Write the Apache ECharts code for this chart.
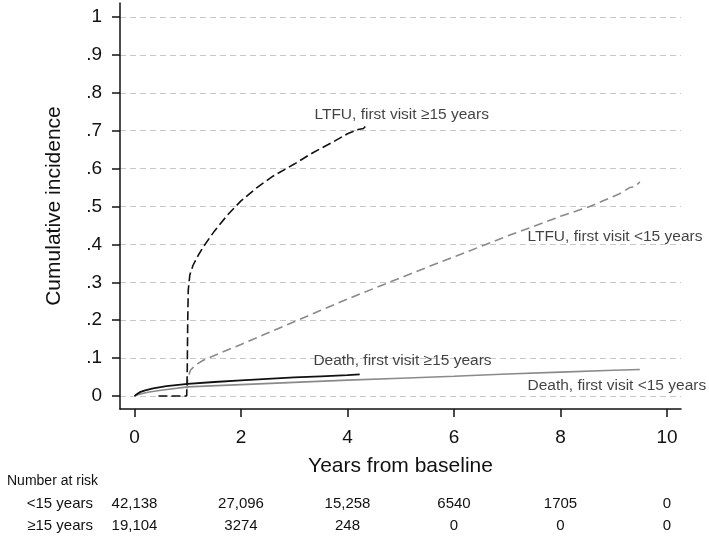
<!DOCTYPE html>
<html>
<head>
<meta charset="utf-8">
<script src="https://cdn.jsdelivr.net/npm/echarts@6/dist/echarts.min.js"></script>
<style>html,body{margin:0;padding:0;background:#fff;}#c{width:709px;height:536px;}</style>
</head>
<body>
<div id="c"></div>
<script>
// ---- data ----
const xTicks = [0, 2, 4, 6, 8, 10];
const yTicks = [0, 0.1, 0.2, 0.3, 0.4, 0.5, 0.6, 0.7, 0.8, 0.9, 1];
const yTickLabels = ['0', '.1', '.2', '.3', '.4', '.5', '.6', '.7', '.8', '.9', '1'];

const ltfuAdult = [[0.45,0],[0.98,0],[0.99,0.06],[1.0,0.2],[1.01,0.28],[1.04,0.32],[1.1,0.345],[1.2,0.372],[1.3,0.395],[1.5,0.435],[1.75,0.478],[2.0,0.515],[2.3,0.55],[2.6,0.58],[3.0,0.612],[3.35,0.642],[3.7,0.668],[4.0,0.692],[4.2,0.703],[4.3,0.706],[4.37,0.716]];
const ltfuChild = [[0.99,0.02],[1.0,0.045],[1.05,0.068],[1.15,0.082],[1.3,0.095],[1.6,0.113],[2.0,0.136],[2.5,0.166],[3.0,0.196],[3.5,0.226],[4.0,0.256],[4.5,0.284],[5.0,0.312],[5.5,0.34],[6.0,0.367],[6.6,0.4],[7.0,0.422],[7.5,0.448],[8.0,0.474],[8.55,0.5],[8.8,0.515],[9.1,0.533],[9.3,0.55],[9.4,0.552],[9.49,0.565]];
const deathAdult = [[0,0],[0.05,0.005],[0.1,0.01],[0.2,0.015],[0.35,0.02],[0.6,0.026],[1.0,0.032],[1.5,0.037],[2.0,0.041],[2.5,0.045],[3.0,0.049],[3.5,0.052],[4.0,0.055],[4.23,0.057]];
const deathChild = [[0,0],[0.1,0.005],[0.25,0.01],[0.5,0.015],[1.0,0.024],[2.0,0.03],[3.0,0.036],[4.0,0.042],[5.0,0.047],[6.0,0.052],[7.0,0.058],[8.0,0.063],[9.0,0.068],[9.49,0.07]];

const annotations = [
  [3.37, 0.743, 'LTFU, first visit \u226515 years'],
  [7.37, 0.421, 'LTFU, first visit <15 years'],
  [3.35, 0.0926, 'Death, first visit \u226515 years'],
  [7.37, 0.0265, 'Death, first visit <15 years']
];

const riskRowNames = ['<15 years', '\u226515 years'];
const riskChild = ['42,138', '27,096', '15,258', '6540', '1705', '0'];
const riskAdult = ['19,104', '3274', '248', '0', '0', '0'];

// ---- chart ----
const FONT = 'Liberation Sans, Arial, sans-serif';
const X_MIN = -0.272, X_MAX = 10.263, Y_MIN = -0.0343, Y_MAX = 1.037;
const chart = echarts.init(document.getElementById('c'), null, {renderer: 'canvas'});

function riskAxis(names, values, offset) {
  return {
    type: 'value', gridIndex: 0, position: 'bottom', offset: offset,
    min: X_MIN, max: X_MAX,
    name: names, nameLocation: 'start', nameGap: 27,
    nameTextStyle: {fontFamily: FONT, fontSize: 15, color: '#111', verticalAlign: 'middle', align: 'right'},
    axisLine: {show: false, onZero: false}, axisTick: {show: false}, splitLine: {show: false},
    axisLabel: {
      customValues: xTicks, margin: 0, verticalAlign: 'middle',
      fontFamily: FONT, fontSize: 15, color: '#111',
      formatter: v => values[xTicks.indexOf(Math.round(v))]
    }
  };
}

const option = {
  animation: false,
  backgroundColor: '#fff',
  title: {
    text: 'Number at risk', left: 2, top: 469,
    textStyle: {fontFamily: FONT, fontSize: 14, fontWeight: 'normal', color: '#111'}
  },
  grid: {left: 120, top: 3, right: 28, bottom: 127, containLabel: false},
  xAxis: [
    {
      type: 'value', min: X_MIN, max: X_MAX,
      name: 'Years from baseline', nameLocation: 'middle', nameGap: 47,
      nameTextStyle: {fontFamily: FONT, fontSize: 21, color: '#111'},
      axisLine: {show: true, onZero: false, lineStyle: {color: '#111', width: 1.5}},
      axisTick: {show: true, customValues: xTicks, length: 8, lineStyle: {color: '#111', width: 1.5}},
      axisLabel: {customValues: xTicks, margin: 19, fontFamily: FONT, fontSize: 19, color: '#111'},
      splitLine: {show: false}
    },
    riskAxis(riskRowNames[0], riskChild, 95),
    riskAxis(riskRowNames[1], riskAdult, 117)
  ],
  yAxis: {
    type: 'value', min: Y_MIN, max: Y_MAX,
    name: 'Cumulative incidence', nameLocation: 'middle', nameGap: 55,
    nameTextStyle: {fontFamily: FONT, fontSize: 21, color: '#111'},
    axisLine: {show: true, onZero: false, lineStyle: {color: '#111', width: 1.5}},
    axisTick: {show: true, customValues: yTicks, length: 8, lineStyle: {color: '#111', width: 1.5}},
    axisLabel: {
      customValues: yTicks, margin: 18, fontFamily: FONT, fontSize: 19, color: '#111',
      formatter: v => {
        let i = -1, best = 1;
        yTicks.forEach((t, k) => { if (Math.abs(t - v) < best) { best = Math.abs(t - v); i = k; } });
        return yTickLabels[i];
      }
    },
    splitLine: {show: true, lineStyle: {color: '#c8c8c8', width: 1, type: [6, 4]}}
  },
  series: [
    {
      name: 'Death, first visit <15 years', type: 'line', data: deathChild, showSymbol: false,
      lineStyle: {color: '#8a8a8a', width: 1.6}, z: 3
    },
    {
      name: 'LTFU, first visit <15 years', type: 'line', data: ltfuChild, showSymbol: false,
      lineStyle: {color: '#8a8a8a', width: 1.6, type: [9, 5]}, z: 3
    },
    {
      name: 'Death, first visit >=15 years', type: 'line', data: deathAdult, showSymbol: false,
      lineStyle: {color: '#111', width: 1.8}, z: 4
    },
    {
      name: 'LTFU, first visit >=15 years', type: 'line', data: ltfuAdult, showSymbol: false,
      lineStyle: {color: '#111', width: 1.6, type: [9, 4]}, z: 4
    },
    {
      name: 'labels', type: 'scatter', data: annotations, symbolSize: 1, silent: true,
      itemStyle: {color: 'rgba(0,0,0,0)'},
      label: {
        show: true, position: 'right', distance: 0,
        fontFamily: FONT, fontSize: 15.5, color: '#111',
        formatter: p => p.data[2]
      }, z: 5
    }
  ]
};
chart.setOption(option);
</script>
</body>
</html>
